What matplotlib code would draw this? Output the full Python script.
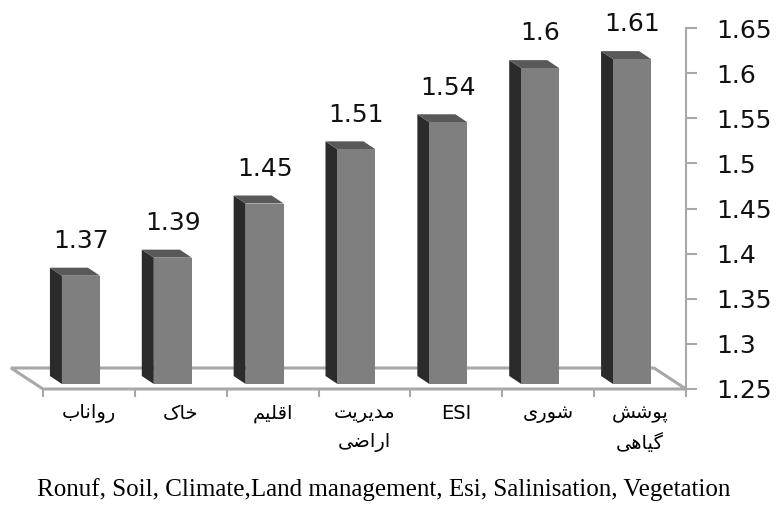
import matplotlib.pyplot as plt
from matplotlib.patches import Polygon
import numpy as np

# داده‌ها
categories = ['رواناب', 'خاک', 'اقلیم', 'مدیریت\nاراضی', 'ESI', 'شوری', 'پوشش\nگیاهی']
values = [1.37, 1.39, 1.45, 1.51, 1.54, 1.6, 1.61]
y_ticks = [1.25, 1.3, 1.35, 1.4, 1.45, 1.5, 1.55, 1.6, 1.65]
caption = 'Ronuf, Soil, Climate,Land management, Esi, Salinisation, Vegetation'

# شکل‌دهی دستی حروف فارسی (matplotlib اتصال حروف را انجام نمی‌دهد)
FORMS = {
    'ا': ('\uFE8D', '\uFE8E', None, None),
    'ب': ('\uFE8F', '\uFE90', '\uFE91', '\uFE92'),
    'پ': ('\uFB56', '\uFB57', '\uFB58', '\uFB59'),
    'ت': ('\uFE95', '\uFE96', '\uFE97', '\uFE98'),
    'خ': ('\uFEA5', '\uFEA6', '\uFEA7', '\uFEA8'),
    'د': ('\uFEA9', '\uFEAA', None, None),
    'ر': ('\uFEAD', '\uFEAE', None, None),
    'ش': ('\uFEB5', '\uFEB6', '\uFEB7', '\uFEB8'),
    'ض': ('\uFEBD', '\uFEBE', '\uFEBF', '\uFEC0'),
    'ق': ('\uFED5', '\uFED6', '\uFED7', '\uFED8'),
    'ک': ('\uFB8E', '\uFB8F', '\uFB90', '\uFB91'),
    'گ': ('\uFB92', '\uFB93', '\uFB94', '\uFB95'),
    'ل': ('\uFEDD', '\uFEDE', '\uFEDF', '\uFEE0'),
    'م': ('\uFEE1', '\uFEE2', '\uFEE3', '\uFEE4'),
    'ن': ('\uFEE5', '\uFEE6', '\uFEE7', '\uFEE8'),
    'ه': ('\uFEE9', '\uFEEA', '\uFEEB', '\uFEEC'),
    'و': ('\uFEED', '\uFEEE', None, None),
    'ی': ('\uFBFC', '\uFBFD', '\uFBFE', '\uFBFF'),
}


def shape_line(word):
    if not any(ch in FORMS for ch in word):
        return word
    out = []
    for i, ch in enumerate(word):
        f = FORMS.get(ch)
        if f is None:
            out.append(ch)
            continue
        prev = word[i - 1] if i > 0 else None
        nxt = word[i + 1] if i < len(word) - 1 else None
        joins_prev = prev in FORMS and FORMS[prev][2] is not None
        joins_next = f[2] is not None and nxt in FORMS
        if joins_prev and joins_next:
            out.append(f[3])
        elif joins_prev:
            out.append(f[1])
        elif joins_next:
            out.append(f[2])
        else:
            out.append(f[0])
    return ''.join(reversed(out))


def shape(text):
    return '\n'.join(shape_line(l) for l in text.split('\n'))


W, H, DPI = 783, 526, 100
fig = plt.figure(figsize=(W / DPI, H / DPI), dpi=DPI)
# محدوده‌ی محور بر حسب پیکسل
left_px, right_px, top_px, bottom_px = 43, 686, 28, 389
ax = fig.add_axes([left_px / W, 1 - bottom_px / H,
                   (right_px - left_px) / W, (bottom_px - top_px) / H])
n = len(values)
ymin, ymax = 1.25, 1.65
ax.set_xlim(-0.5, n - 0.5)
ax.set_ylim(ymin, ymax)

# پیکسل به واحد داده
px_x = n / (right_px - left_px)
px_y = (ymax - ymin) / (bottom_px - top_px)

# کف سه‌بعدی
floor_d = (-32 * px_x, 21 * px_y)
fl = [(-0.5, ymin), (n - 0.5, ymin),
      (n - 0.5 + floor_d[0], ymin + floor_d[1]), (-0.5 + floor_d[0], ymin + floor_d[1])]
ax.add_patch(Polygon(fl, closed=True, facecolor='white', edgecolor='#a8a8a8',
                     linewidth=2.2, clip_on=False, zorder=1))

# ستون‌ها
front = (-8 * px_x, 5 * px_y)
depth = (-12 * px_x, 8 * px_y)
bw = 38 * px_x
x = np.arange(n)
for xi, v in zip(x, values):
    L = xi + front[0] - bw / 2
    R = L + bw
    B = ymin + front[1]
    T = v + front[1]
    side = [(L, B), (L, T), (L + depth[0], T + depth[1]), (L + depth[0], B + depth[1])]
    top = [(L, T), (R, T), (R + depth[0], T + depth[1]), (L + depth[0], T + depth[1])]
    ax.add_patch(Polygon(side, closed=True, facecolor='#2b2b2b', edgecolor='none',
                         clip_on=False, zorder=2))
    ax.add_patch(Polygon(top, closed=True, facecolor='#595959', edgecolor='none',
                         clip_on=False, zorder=2))
ax.bar(x + front[0], np.array(values) - ymin, bottom=ymin + front[1], width=bw,
       color='#7f7f7f', edgecolor='none', zorder=3, clip_on=False)

# برچسب مقادیر
for xi, v in zip(x, values):
    ax.annotate(f'{v:g}', (xi + front[0], v), xytext=(0, 23.5), textcoords='offset points',
                ha='center', va='baseline', fontsize=18, color='#111111',
                annotation_clip=False)

# محورها
for s in ['top', 'left', 'bottom']:
    ax.spines[s].set_visible(False)
ax.spines['right'].set_color('#a8a8a8')
ax.spines['right'].set_linewidth(1.5)
ax.yaxis.tick_right()
ax.set_yticks(y_ticks)
ax.set_yticklabels([f'{t:g}' for t in y_ticks])
ax.tick_params(axis='y', which='major', length=8, width=1.5, color='#a8a8a8',
               pad=14, labelsize=18, labelcolor='#111111', direction='out')

ax.set_xticks(np.arange(n + 1) - 0.5)
ax.set_xticklabels([])
ax.set_xticks(x, minor=True)
ax.set_xticklabels([shape(c) for c in categories], minor=True)
ax.tick_params(axis='x', which='major', length=6, width=1.5, color='#a8a8a8')
ax.tick_params(axis='x', which='minor', length=0, pad=11, labelsize=14)
for lab in ax.get_xticklabels(minor=True):
    lab.set_linespacing(1.6)
    lab.set_verticalalignment('top')

fig.text(0.49, 36 / H, caption, ha='center', va='center', fontsize=18,
         family='Liberation Serif')

fig.savefig('out.png', dpi=DPI)
